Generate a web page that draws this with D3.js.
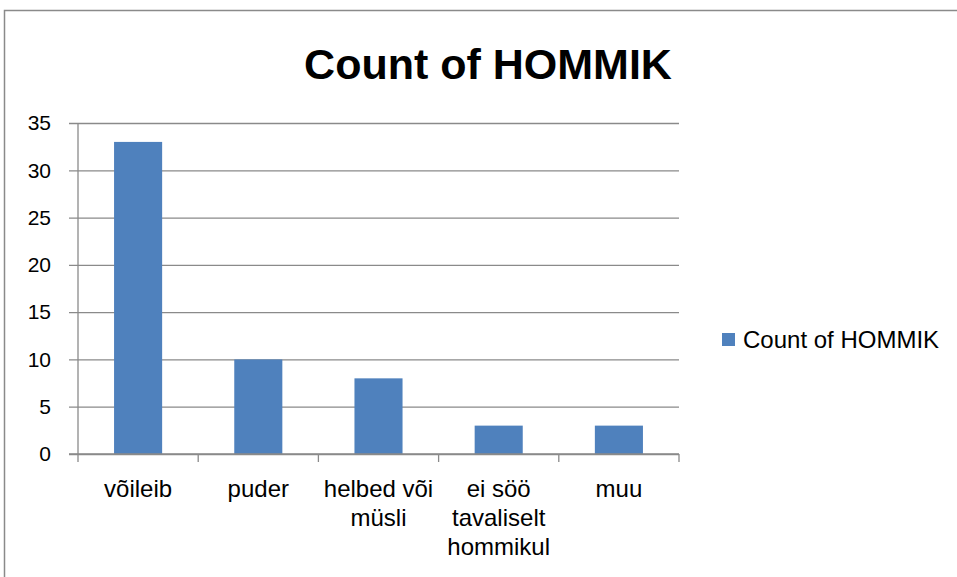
<!DOCTYPE html>
<html>
<head>
<meta charset="utf-8">
<script src="https://cdn.jsdelivr.net/npm/d3@7"></script>
<style>
  body { margin: 0; background: #fff; }
  svg { display: block; font-family: "Liberation Sans", Arial, sans-serif; }
</style>
</head>
<body>
<div id="chartDiv"></div>
<script>
; (function () {

	var categories = ["võileib", "puder", "helbed või müsli", "ei söö tavaliselt hommikul", "muu"];
	var counts = [33, 10, 8, 3, 3];
	var yTicks = [0, 5, 10, 15, 20, 25, 30, 35];
	var titleText = "Count of HOMMIK";
	var seriesName = "Count of HOMMIK";

	var width = 957;
	var height = 577;
	var plot = { left: 78, right: 679, top: 123, bottom: 454 };
	var barColor = "#4F81BD";
	var lineColor = "#8a8a8a";

	var chart = d3.select("#chartDiv").append("svg")
		.attr("width", width)
		.attr("height", height);

	// chart frame, runs off the right and bottom edge
	chart.append("rect")
		.attr("x", 4.5)
		.attr("y", 10.5)
		.attr("width", width + 20)
		.attr("height", height + 20)
		.attr("fill", "#fff")
		.attr("stroke", "#8a8a8a")
		.attr("stroke-width", 1.5);

	chart.append("text")
		.attr("x", 488)
		.attr("y", 79)
		.attr("text-anchor", "middle")
		.style("font-size", "43px")
		.style("font-weight", "bold")
		.text(titleText);

	var yScale = d3.scaleLinear()
		.domain([0, 35])
		.range([plot.bottom, plot.top]);

	var xScale = d3.scaleBand()
		.domain(categories)
		.range([plot.left, plot.right])
		.paddingInner(0.6)
		.paddingOuter(0.3);

	var xCells = d3.scaleBand()
		.domain(categories)
		.range([plot.left, plot.right]);

	// y axis with gridlines
	var yAxis = d3.axisLeft(yScale)
		.tickValues(yTicks)
		.tickSize(-(plot.right - plot.left + 9))
		.tickPadding(18);

	var yAxisG = chart.append("g")
		.attr("transform", "translate(" + (plot.left - 9) + ",0)")
		.call(yAxis);
	yAxisG.select(".domain").remove();
	yAxisG.selectAll("line").attr("stroke", lineColor).attr("stroke-width", 1.3);
	yAxisG.selectAll("text")
		.style("font-size", "21px")
		.style("font-family", "'Liberation Sans', Arial, sans-serif")
		.attr("fill", "#000");

	chart.append("line")
		.attr("x1", plot.left).attr("x2", plot.left)
		.attr("y1", plot.top).attr("y2", plot.bottom)
		.attr("stroke", lineColor).attr("stroke-width", 1.3);

	// bars
	chart.append("g").selectAll("rect")
		.data(counts)
		.join("rect")
		.attr("x", function (d, i) { return xScale(categories[i]); })
		.attr("y", function (d) { return yScale(d); })
		.attr("width", xScale.bandwidth())
		.attr("height", function (d) { return yScale(0) - yScale(d); })
		.attr("fill", barColor);

	// x axis line and tick marks at the category boundaries
	var bounds = categories.map(function (c) { return xCells(c); }).concat([plot.right]);
	chart.append("line")
		.attr("x1", plot.left - 9).attr("x2", plot.right)
		.attr("y1", plot.bottom).attr("y2", plot.bottom)
		.attr("stroke", lineColor).attr("stroke-width", 1.3);
	chart.append("g").selectAll("line")
		.data(bounds)
		.join("line")
		.attr("x1", function (d) { return d; }).attr("x2", function (d) { return d; })
		.attr("y1", plot.bottom).attr("y2", plot.bottom + 8)
		.attr("stroke", lineColor).attr("stroke-width", 1.3);

	// category labels, wrapped to the cell width
	var labels = chart.append("g").selectAll("text")
		.data(categories)
		.join("text")
		.attr("x", function (d) { return xCells(d) + xCells.bandwidth() / 2; })
		.attr("y", 497)
		.attr("text-anchor", "middle")
		.style("font-size", "24px");

	labels.each(function (d) {
		var el = d3.select(this);
		var words = d.split(" ");
		var line = [];
		var tspan = el.append("tspan").attr("x", el.attr("x")).attr("dy", 0);
		words.forEach(function (w) {
			line.push(w);
			tspan.text(line.join(" "));
			if (tspan.node().getComputedTextLength() > xCells.bandwidth() - 4 && line.length > 1) {
				line.pop();
				tspan.text(line.join(" "));
				line = [w];
				tspan = el.append("tspan").attr("x", el.attr("x")).attr("dy", 29).text(w);
			}
		});
	});

	// legend
	chart.append("rect")
		.attr("x", 722).attr("y", 333)
		.attr("width", 13).attr("height", 13)
		.attr("fill", barColor);
	chart.append("text")
		.attr("x", 743).attr("y", 340)
		.attr("dy", "0.35em")
		.style("font-size", "24px")
		.text(seriesName);

})();
</script>
</body>
</html>
